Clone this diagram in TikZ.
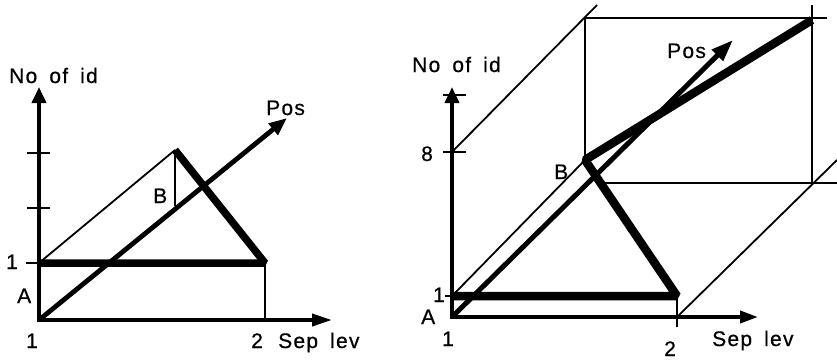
\documentclass[tikz,border=0pt]{standalone}
\usepackage{fontspec}
\setmainfont{Liberation Sans}[LetterSpace=6,WordSpace=1.7,FakeBold=0.6]
\usetikzlibrary{arrows.meta}
\begin{document}
\begin{tikzpicture}[x=1pt,y=-1pt,
  axis/.style={line width=3.8pt, line join=miter},
  thickln/.style={line width=7.5pt, line join=bevel},
  thinln/.style={line width=1.8pt},
  posarrow/.style={line width=4.8pt, -{Triangle[length=18pt,width=14pt]}},
  lbl/.style={inner sep=0pt, anchor=base west, font=\fontsize{21}{25}\selectfont},
  tickln/.style={line width=2pt}]
\useasboundingbox (0,0) rectangle (837,360);

% ---------------- left diagram ----------------
\coordinate (O1) at (39,320);
\coordinate (Y1) at (39,87);
\coordinate (X1) at (332,320);
\coordinate (P1) at (39,263);
\coordinate (Q1) at (265,263);
\coordinate (R1) at (265,320);
\coordinate (B1) at (175,150);
\coordinate (F1) at (175,206);
\coordinate (S1) at (287,118);
\coordinate (ta1) at (27,153);
\coordinate (tb1) at (50,153);
\coordinate (ta2) at (27,208);
\coordinate (tb2) at (50,208);
\coordinate (ta3) at (26,263);

\draw[axis, {Triangle[length=16pt,width=14pt]}-{Triangle[length=20pt,width=12pt]}] (Y1) -- (O1) -- (X1);
\draw[tickln] (ta1) -- (tb1);
\draw[tickln] (ta2) -- (tb2);
\draw[tickln] (ta3) -- (P1);
\draw[thinln] (Q1) -- (R1);
\draw[thinln] (P1) -- (B1);
\draw[thinln] (B1) -- (F1);
\draw[thickln] (P1) -- (Q1) -- (B1);
\draw[posarrow] (O1) -- (S1);

\node[lbl] (nid1) at (9,83) {No of id};
\node[lbl] (pos1) at (266,115) {Pos};
\node[lbl] (one1) at (6,269) {1};
\node[lbl] (A1) at (17,303) {A};
\node[lbl] (B1l) at (153,203) {B};
\node[lbl] (oneb1) at (26,348) {1};
\node[lbl] (two1) at (251,348) {2};
\node[lbl] (sep1) at (278,348) {Sep lev};

% ---------------- right diagram ----------------
\coordinate (O2) at (452,317);
\coordinate (Y2) at (452,87);
\coordinate (X2) at (758,317);
\coordinate (P2) at (452,296);
\coordinate (Q2) at (677,296);
\coordinate (R2) at (677,327);
\coordinate (B2) at (585,160);
\coordinate (T2) at (812,20);
\coordinate (S2) at (733,40);
\coordinate (E2) at (452,152);
\coordinate (D1) at (597,5);
\coordinate (TL) at (585,18);
\coordinate (TR) at (827,18);
\coordinate (V1) at (812,5);
\coordinate (V2) at (812,183);
\coordinate (H1) at (597,183);
\coordinate (H2) at (837,183);
\coordinate (X2b) at (677,317);
\coordinate (D2) at (837,160);
\coordinate (tc1) at (443,152);
\coordinate (tc2) at (466,152);
\coordinate (td1) at (443,95);
\coordinate (td2) at (466,95);
\coordinate (te1) at (445,296);

\draw[thinln] (E2) -- (D1);
\draw[thinln] (TL) -- (TR);
\draw[thinln] (TL) -- (B2);
\draw[thinln] (V1) -- (V2);
\draw[thinln] (H1) -- (H2);
\draw[thinln] (X2b) -- (D2);
\draw[thinln] (P2) -- (B2);
\draw[thinln] (Q2) -- (R2);

\draw[axis, {Triangle[length=16pt,width=14pt]}-{Triangle[length=18pt,width=12pt]}] (Y2) -- (O2) -- (X2);
\draw[tickln] (tc1) -- (tc2);
\draw[tickln] (td1) -- (td2);
\draw[tickln] (te1) -- (P2);
\draw[line width=8.5pt, line join=bevel] (P2) -- (Q2) -- (B2) -- (T2);
\draw[line width=5pt, -{Triangle[length=22pt,width=15pt]}] (O2) -- (S2);

\node[lbl] (nid2) at (412,72) {No of id};
\node[lbl] (pos2) at (667,58) {Pos};
\node[lbl] (eight2) at (421,161) {8};
\node[lbl] (B2l) at (554,179) {B};
\node[lbl] (one2) at (433,302) {1};
\node[lbl] (A2) at (421,324) {A};
\node[lbl] (oneb2) at (442,346) {1};
\node[lbl] (two2) at (664,356) {2};
\node[lbl] (sep2) at (712,346) {Sep lev};
\end{tikzpicture}
\end{document}
